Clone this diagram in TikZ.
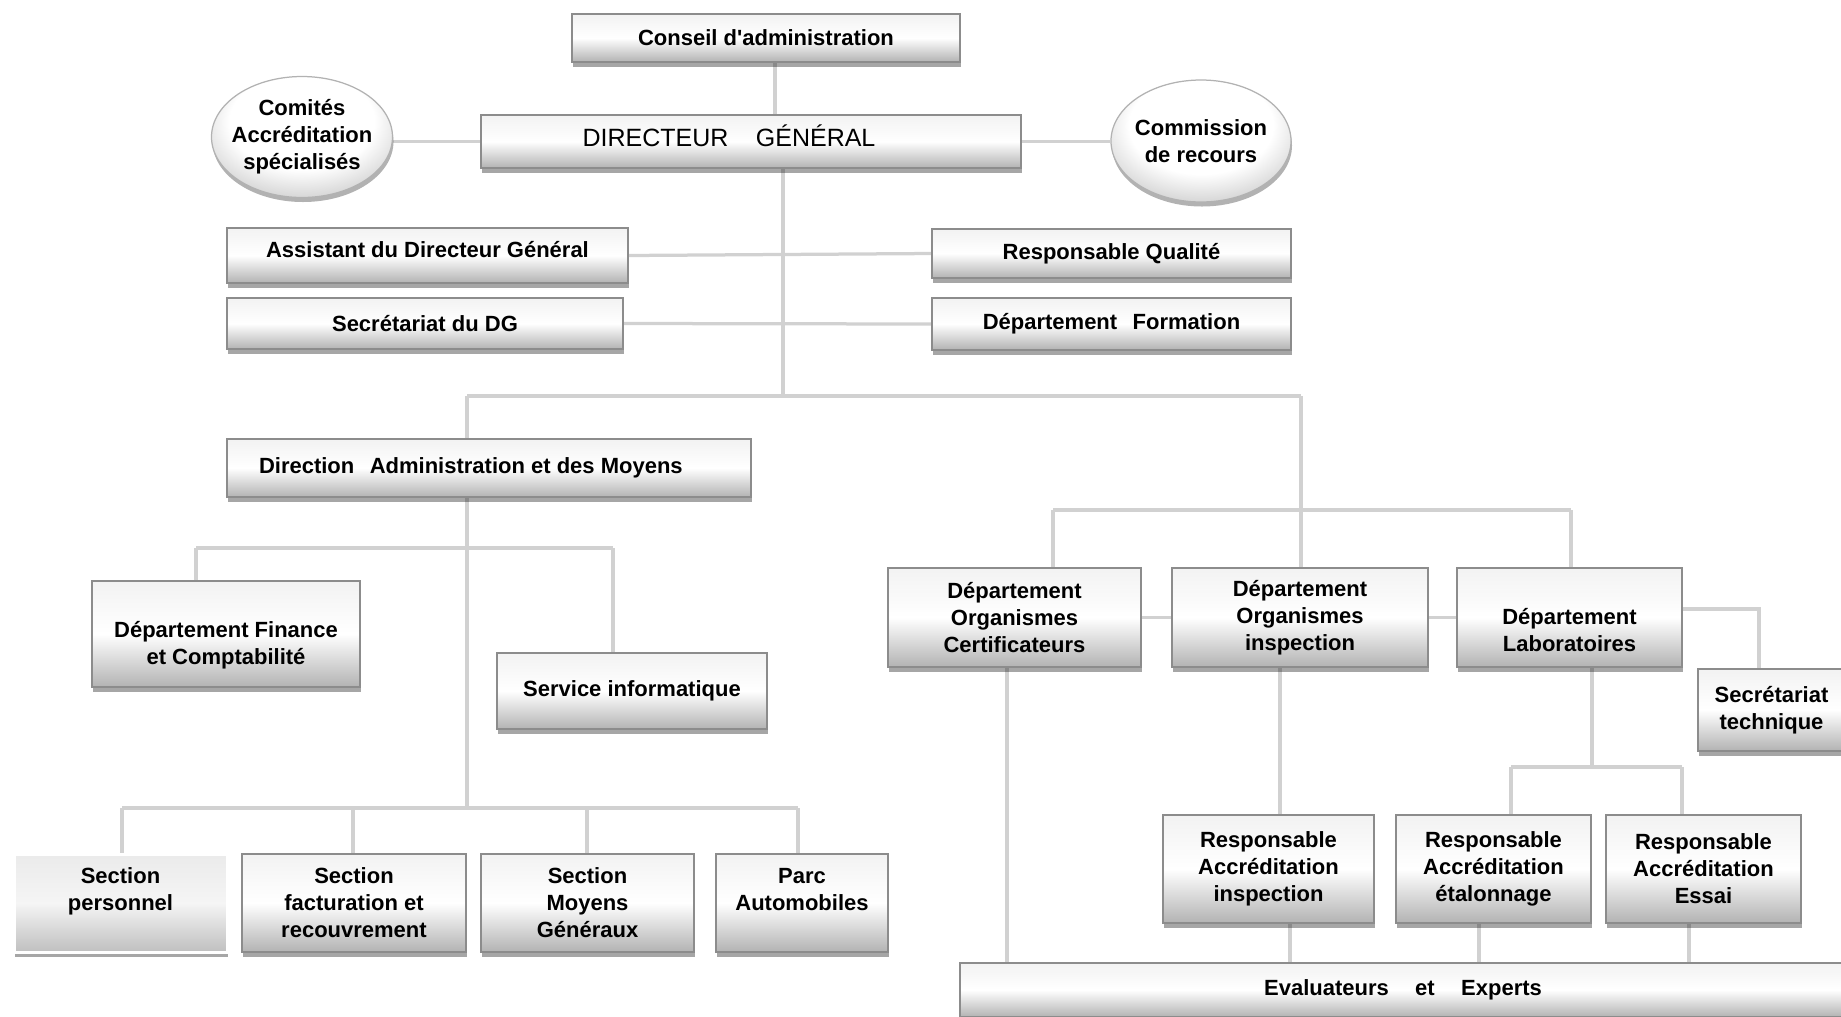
\documentclass[tikz,border=0pt]{standalone}
\usepackage{fontspec}
\newfontfamily\orgfont{Liberation Sans}
\usetikzlibrary{shadows,backgrounds,shapes.geometric}
\pgfdeclareradialshading{ovalshade}{\pgfpoint{0bp}{9bp}}{color(0bp)=(white); color(20bp)=(white); color(34bp)=(black!22); color(46bp)=(black!42); color(70bp)=(black!42)}
\tikzset{
  sz/.style 2 args={minimum width=#1*0.4pt, minimum height=#2*0.4pt},
  box/.style={draw=black!45, line width=0.5pt, top color=black!5, bottom color=black!30, middle color=white,
    drop shadow={shadow xshift=0.4pt, shadow yshift=-1.8pt, opacity=0.35, fill=black},
    align=center, inner sep=1pt, text=black,
    font=\orgfont\bfseries\fontsize{8.8}{10.8}\selectfont},
  oval/.style={ellipse, draw=black!30, line width=0.5pt, shading=ovalshade,
    drop shadow={shadow xshift=0.4pt, shadow yshift=-1.8pt, opacity=0.3, fill=black},
    align=center, inner xsep=-3pt, inner ysep=0pt, text=black,
    font=\orgfont\bfseries\fontsize{8.8}{10.8}\selectfont},
  link/.style={draw=black!18, line width=1.3pt}
}
\begin{document}
\begin{tikzpicture}[x=0.4pt,y=-0.4pt]
\useasboundingbox (0,0) rectangle (1841,1016);

% top
\node[box, sz={388}{48}] (CA) at (766,38) {Conseil d'administration};
\node[box, sz={540}{53}, font=\orgfont\fontsize{10}{12}\selectfont] (DG) at (751,141.5)
  {DIRECTEUR\hspace{1.1em}GÉNÉRAL\hspace*{17.6pt}\\[-7pt]\mbox{}};
\node[oval, sz={181}{121}] (COM) at (302,137) {Comités\\Accréditation\\spécialisés};
\node[oval, sz={180}{122}] (REC) at (1201,141) {Commission\\de recours};

\node[box, sz={401}{55}] (ASS) at (427.5,255.5) {Assistant du Directeur Général\\[-6.1pt]\mbox{}};
\node[box, sz={396}{51}] (SDG) at (425,323.5) {Secrétariat du DG};
\node[box, sz={359}{49}] (RQ) at (1111.5,253.5) {Responsable Qualité};
\node[box, sz={359}{52}] (DF) at (1111.5,324) {Département\hspace{0.7em}Formation};

% administration
\node[box, sz={524}{58}] (DAM) at (489,468) {Direction\hspace{0.7em}Administration et des Moyens\hspace*{14.5pt}};
\node[box, sz={268}{106}] (FIN) at (226,634) {\rule{0pt}{15.3pt}Département Finance\\et Comptabilité};
\node[box, sz={270}{76}] (SI) at (632,691) {Service informatique};

\node[box, sz={213}{98}, top color=black!8, bottom color=black!25, middle color=black!4, draw=white, line width=1.2pt] (SP) at (120.5,903) {Section\\personnel\\\mbox{}};
\node[box, sz={224}{98}] (SF) at (354,903) {Section\\facturation et\\recouvrement};
\node[box, sz={213}{98}] (SM) at (587.5,903) {Section\\Moyens\\Généraux};
\node[box, sz={172}{98}] (PA) at (802,903) {Parc\\Automobiles\\\mbox{}};

% technical
\node[box, sz={253}{99}] (DOC) at (1014.5,617.5) {Département\\Organismes\\Certificateurs};
\node[box, sz={256}{99}] (DOI) at (1300,617.5) {Département\\Organismes\\inspection};
\node[box, sz={225}{99}] (DL) at (1569.5,617.5) {\rule{0pt}{16.2pt}Département\\Laboratoires};
\node[box, sz={147}{82}] (ST) at (1771.5,710) {Secrétariat\\technique};

\node[box, sz={211}{108}] (RAI) at (1268.5,869) {Responsable\\Accréditation\\inspection};
\node[box, sz={195}{108}] (RAE) at (1493.5,869) {Responsable\\Accréditation\\étalonnage};
\node[box, sz={195}{108}] (RAS) at (1703.5,869) {Responsable\\Accréditation\\Essai};

\node[box, sz={886}{54}] (EE) at (1403,990) {Evaluateurs\hspace{1.2em}et\hspace{1.2em}Experts};

% connectors
\coordinate (jDG) at (783,396);
\coordinate (hL) at (467,396);
\coordinate (hR) at (1301,396);
\coordinate (aL) at (196,548);
\coordinate (aR) at (613,548);
\coordinate (s1) at (122,808);
\coordinate (s2) at (353,808);
\coordinate (s3) at (587,808);
\coordinate (s4) at (798,808);
\coordinate (tL) at (1053,510);
\coordinate (tR) at (1571,510);
\coordinate (tC) at (1301,510);
\coordinate (st) at (1759,609);
\coordinate (lab) at (1592,767);
\coordinate (r1) at (1511,767);
\coordinate (r2) at (1682,767);
\coordinate (cc) at (775,0);
\coordinate (xc) at (1007,0);
\coordinate (xi) at (1280,0);
\coordinate (e1) at (1290,0);
\coordinate (e2) at (1479,0);
\coordinate (e3) at (1689,0);

\begin{pgfonlayer}{background}
\draw[link] (CA.south -| cc) -- (DG.north -| cc);
\draw[link] (COM.east |- DG.west) -- (DG.west);
\draw[link] (DG.east) -- (REC.west |- DG.east);
\draw[link] (DG.south -| jDG) -- (jDG);
\draw[link] (ASS.east) -- (RQ.west);
\draw[link] (SDG.east) -- (DF.west);
\draw[link] (hL) -- (hR);
\draw[link] (hL) -- (DAM.north -| hL);
\draw[link] (DAM.south -| hL) -- (s1 -| hL);
\draw[link] (aL) -- (aR);
\draw[link] (aL) -- (FIN.north -| aL);
\draw[link] (aR) -- (SI.north -| aR);
\draw[link] (s1) -- (s4);
\draw[link] (s1) -- (SP.north -| s1);
\draw[link] (s2) -- (SF.north -| s2);
\draw[link] (s3) -- (SM.north -| s3);
\draw[link] (s4) -- (PA.north -| s4);
\draw[link] (hR) -- (tC);
\draw[link] (tL) -- (tR);
\draw[link] (tL) -- (DOC.north -| tL);
\draw[link] (tC) -- (DOI.north -| tC);
\draw[link] (tR) -- (DL.north -| tR);
\draw[link] (DOC.east) -- (DOI.west);
\draw[link] (DOI.east) -- (DL.west);
\draw[link] (DL.east |- st) -- (st) -- (ST.north -| st);
\draw[link] (DOC.south -| xc) -- (EE.north -| xc);
\draw[link] (DOI.south -| xi) -- (RAI.north -| xi);
\draw[link] (DL.south -| lab) -- (lab);
\draw[link] (r1) -- (r2);
\draw[link] (r1) -- (RAE.north -| r1);
\draw[link] (r2) -- (RAS.north -| r2);
\draw[link] (RAI.south -| e1) -- (EE.north -| e1);
\draw[link] (RAE.south -| e2) -- (EE.north -| e2);
\draw[link] (RAS.south -| e3) -- (EE.north -| e3);
\end{pgfonlayer}
\end{tikzpicture}
\end{document}
